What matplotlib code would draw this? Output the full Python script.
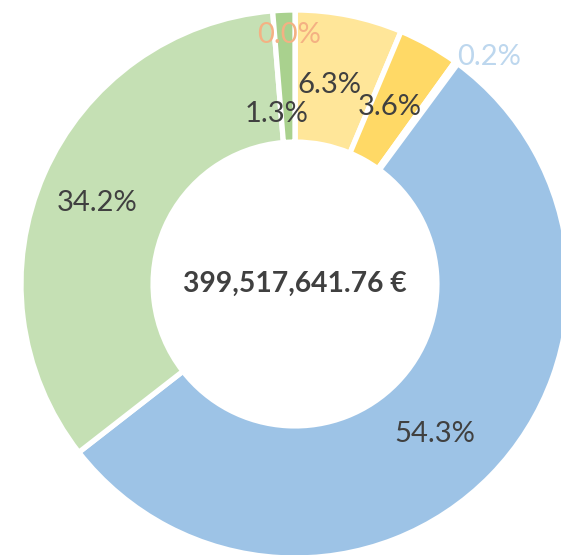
import matplotlib
matplotlib.use("Agg")
import matplotlib.pyplot as plt
import numpy as np

# Data (clockwise from 12 o'clock)
labels = ["0.0%", "6.3%", "3.6%", "0.2%", "54.3%", "34.2%", "1.3%"]
values = [0.02, 6.3, 3.6, 0.2, 54.3, 34.2, 1.3]
colors = ["#F4B183", "#FFE699", "#FFD966", "#BDD7EE", "#9DC3E6", "#C5E0B4", "#A9D18E"]
label_colors = ["#F4B183", "#404040", "#404040", "#BDD7EE", "#404040", "#404040", "#404040"]
total_text = "399,517,641.76 €"

# label placement: (radius factor, angle offset in degrees)
label_pos = [(0.909, 1.3), (0.737, 1.6), (0.733, 1.0), (1.088, -4.4),
             (0.748, -2.6), (0.781, 1.6), (0.623, 4.0)]

font = ["Lato", "DejaVu Sans"]

fig = plt.figure(figsize=(5.61, 5.55), dpi=100)
ax = fig.add_axes([0, 0, 1, 1])
wedges, _ = ax.pie(values, colors=colors, startangle=90, counterclock=False,
                   radius=1.0, wedgeprops=dict(width=0.482, edgecolor="white", linewidth=3.8))

frac = np.array(values) / np.sum(values)
cum = np.cumsum(frac) - frac / 2
for i, lab in enumerate(labels):
    r, dang = label_pos[i]
    ang = np.deg2rad(90 - cum[i] * 360 + dang)
    ax.text(r * np.cos(ang), r * np.sin(ang), lab, ha="center", va="center",
            fontsize=21, color=label_colors[i], family=font)

ax.text(0, 0, total_text, ha="center", va="center", fontsize=20.3, fontweight="bold",
        color="#404040", family=font)

ppu = 274.0
cx, cy = 295.0, 284.0
ax.set_xlim(-cx / ppu, (561 - cx) / ppu)
ax.set_ylim(-(555 - cy) / ppu, cy / ppu)
ax.set_aspect("auto")
ax.axis("off")
fig.savefig("out.png", dpi=100)
